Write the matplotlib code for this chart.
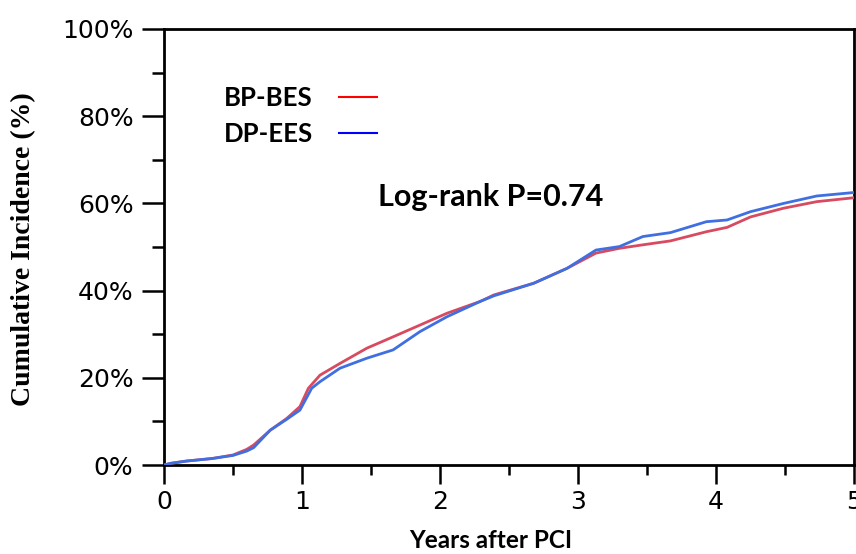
import matplotlib
matplotlib.use("Agg")
import matplotlib.pyplot as plt
from matplotlib.lines import Line2D
from matplotlib.ticker import MultipleLocator, FuncFormatter

# Cumulative incidence (years, %)
years_bp = [0.0, 0.05, 0.16, 0.35, 0.5, 0.6, 0.65, 0.77, 0.89, 0.985, 1.046, 1.13,
            1.275, 1.47, 1.66, 1.855, 2.05, 2.29, 2.39, 2.68, 2.92, 3.13, 3.30,
            3.47, 3.67, 3.93, 4.08, 4.25, 4.49, 4.73, 5.0]
inc_bp = [0.0, 0.4, 0.9, 1.5, 2.3, 3.6, 4.6, 8.0, 10.7, 13.4, 17.6, 20.6,
          23.3, 26.8, 29.4, 32.1, 34.8, 37.5, 39.0, 41.7, 45.1, 48.6, 49.7,
          50.5, 51.4, 53.5, 54.5, 56.9, 58.9, 60.4, 61.3]

years_dp = [0.0, 0.05, 0.16, 0.35, 0.5, 0.6, 0.65, 0.77, 0.89, 0.985, 1.07, 1.13,
            1.275, 1.47, 1.66, 1.855, 2.05, 2.29, 2.39, 2.68, 2.92, 3.13, 3.30,
            3.47, 3.67, 3.93, 4.08, 4.25, 4.49, 4.73, 5.0]
inc_dp = [0.0, 0.4, 0.9, 1.5, 2.2, 3.2, 4.0, 8.0, 10.5, 12.6, 17.6, 19.1,
          22.2, 24.5, 26.4, 30.6, 34.0, 37.5, 38.8, 41.7, 45.1, 49.3, 50.1,
          52.4, 53.3, 55.8, 56.2, 58.1, 60.0, 61.7, 62.5]

labels = ["BP-BES", "DP-EES"]
curve_colors = ["#d84a5f", "#3f6fe0"]
legend_colors = ["#ff0000", "#0000ff"]

fig = plt.figure(figsize=(8.56, 5.54), dpi=100)
ax = fig.add_axes([0.1916, 0.1606, 0.8061, 0.7871])

ax.plot(years_bp, inc_bp, color=curve_colors[0], lw=2, zorder=3)
ax.plot(years_dp, inc_dp, color=curve_colors[1], lw=2, zorder=3)

ax.set_xlim(0, 5)
ax.set_ylim(0, 100)
ax.xaxis.set_major_locator(MultipleLocator(1))
ax.xaxis.set_minor_locator(MultipleLocator(0.5))
ax.yaxis.set_major_locator(MultipleLocator(20))
ax.yaxis.set_minor_locator(MultipleLocator(10))
ax.yaxis.set_major_formatter(FuncFormatter(lambda v, p: f"{v:.0f}%"))

for s in ax.spines.values():
    s.set_linewidth(2)
ax.tick_params(which="major", length=14, width=1.8, labelsize=18, pad=4)
ax.tick_params(which="minor", length=7, width=1.8)
ax.tick_params(axis="y", which="major", length=16, pad=6)
ax.tick_params(axis="y", which="minor", length=9)

ax.set_xlabel("Years after PCI", fontfamily="Lato", fontweight="bold", fontsize=17.5,
              va="center")
ax.xaxis.set_label_coords(0.474, -0.172)
ax.set_ylabel("Cumulative Incidence (%)", fontfamily="Liberation Serif", fontweight="bold",
              fontsize=20, va="center")
ax.yaxis.set_label_coords(-0.204, 0.494)

handles = [Line2D([], [], color=c, lw=1.5) for c in legend_colors]
leg = ax.legend(handles, labels, loc="upper left", bbox_to_anchor=(0.053, 0.922),
                frameon=False, markerfirst=False, handlelength=1.5, handletextpad=1.0,
                labelspacing=0.45, prop={"family": "Lato", "weight": "bold", "size": 18.5})

ax.text(0.31, 0.615, "Log-rank P=0.74", transform=ax.transAxes, fontfamily="Lato",
        fontweight="bold", fontsize=22, va="center", ha="left")

fig.savefig("out.png", dpi=100)
